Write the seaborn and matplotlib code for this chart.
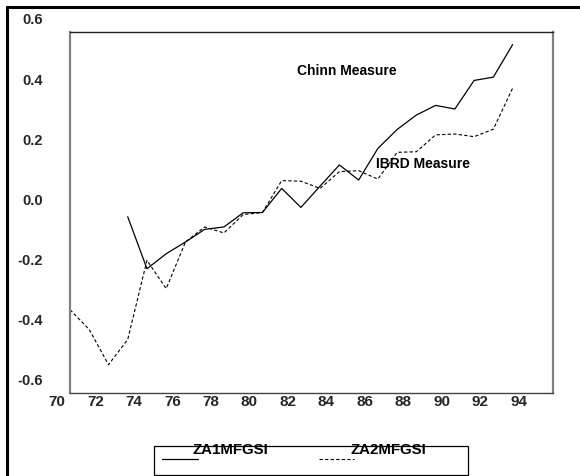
import numpy as np
import pandas as pd
import seaborn as sns
import matplotlib.pyplot as plt
from matplotlib.transforms import ScaledTranslation
from matplotlib.lines import Line2D
from matplotlib.patches import Rectangle

# Series values
years_ibrd = list(range(1970, 1994))
za2mfgsi = [-0.323, -0.389, -0.506, -0.422, -0.159, -0.253, -0.098, -0.048,
            -0.068, -0.007, 0.000, 0.106, 0.104, 0.080, 0.136, 0.139,
            0.111, 0.200, 0.202, 0.258, 0.261, 0.252, 0.277, 0.413]

years_chinn = list(range(1973, 1994))
za1mfgsi = [-0.014, -0.187, -0.137, -0.098, -0.056, -0.048, -0.001, 0.000,
            0.080, 0.017, 0.088, 0.158, 0.108, 0.213, 0.276, 0.324,
            0.356, 0.344, 0.439, 0.450, 0.558]

x_ticks = list(range(1970, 1995, 2))
x_labels = [str(y % 100) for y in x_ticks]
y_ticks = [-0.6, -0.4, -0.2, 0.0, 0.2, 0.4, 0.6]
y_labels = ["-0.6", "-0.4", "-0.2", "0.0", "0.2", "0.4", "0.6"]

sns.set_theme(style="white")
plt.rcParams['font.family'] = ['Liberation Sans', 'DejaVu Sans']

fig = plt.figure(figsize=(5.8, 4.77), dpi=100)
ax = fig.add_axes([70 / 580, 1 - 394 / 477, (553 - 70) / 580, (394 - 33) / 477])

sns.lineplot(x=years_chinn, y=za1mfgsi, color="black", linewidth=0.9, ax=ax)
sns.lineplot(x=years_ibrd, y=za2mfgsi, color="black", linewidth=0.8,
             linestyle=(0, (3, 2)), ax=ax)

ax.set_xlim(1970, 1995.1)
ax.set_ylim(-0.6, 0.6)
ax.set_xticks(x_ticks)
ax.set_xticklabels(x_labels, fontsize=11, fontweight="bold")
ax.set_yticks(y_ticks)
ax.set_yticklabels(y_labels, fontsize=10.5, fontweight="bold")
ax.tick_params(axis="x", direction="out", length=3, width=0.8, color="black", pad=-2)
ax.tick_params(axis="y", direction="out", length=4.5, width=0.8, color="black", pad=15)
ax.grid(False)

for side in ["left", "right"]:
    ax.spines[side].set_color("#808080")
    ax.spines[side].set_linewidth(1.6)
ax.spines["top"].set_color("#222222")
ax.spines["top"].set_linewidth(1.0)
ax.spines["bottom"].set_color("#444444")
ax.spines["bottom"].set_linewidth(1.0)

# shift tick labels like the original (labels sit off their ticks)
for lab in ax.get_xticklabels():
    lab.set_transform(lab.get_transform() + ScaledTranslation(-0.13, 0, fig.dpi_scale_trans))
for lab in ax.get_yticklabels():
    lab.set_transform(lab.get_transform() + ScaledTranslation(0, 0.14, fig.dpi_scale_trans))

ax.text(1981.8, 0.473, "Chinn Measure", fontsize=10, fontweight="bold",
        ha="left", va="center", color="black")
ax.text(1985.9, 0.163, "IBRD Measure", fontsize=10, fontweight="bold",
        ha="left", va="center", color="black")

# outer frame (top and left only)
W, H = 580, 477
fig.add_artist(Line2D([7 / W, 1], [1 - 7.5 / H, 1 - 7.5 / H], color="black", lw=2.2))
fig.add_artist(Line2D([7 / W, 7 / W], [0, 1 - 7.5 / H], color="black", lw=2.2))

# legend box
fig.add_artist(Rectangle((154 / W, 1 - 476 / H), (468 - 154) / W, (476 - 447) / H,
                         transform=fig.transFigure, fill=False, edgecolor="black", lw=0.9))
fig.add_artist(Line2D([162 / W, 198 / W], [1 - 460 / H] * 2, color="black", lw=0.9))
fig.add_artist(Line2D([319 / W, 354 / W], [1 - 460 / H] * 2, color="black", lw=0.8,
                      linestyle=(0, (3, 2))))
fig.text(230 / W, 1 - 450 / H, "ZA1MFGSI", fontsize=10.8, fontweight="bold",
         ha="center", va="center", color="black")
fig.text(388 / W, 1 - 450 / H, "ZA2MFGSI", fontsize=10.8, fontweight="bold",
         ha="center", va="center", color="black")

fig.savefig("out.png", dpi=100)
plt.close(fig)
